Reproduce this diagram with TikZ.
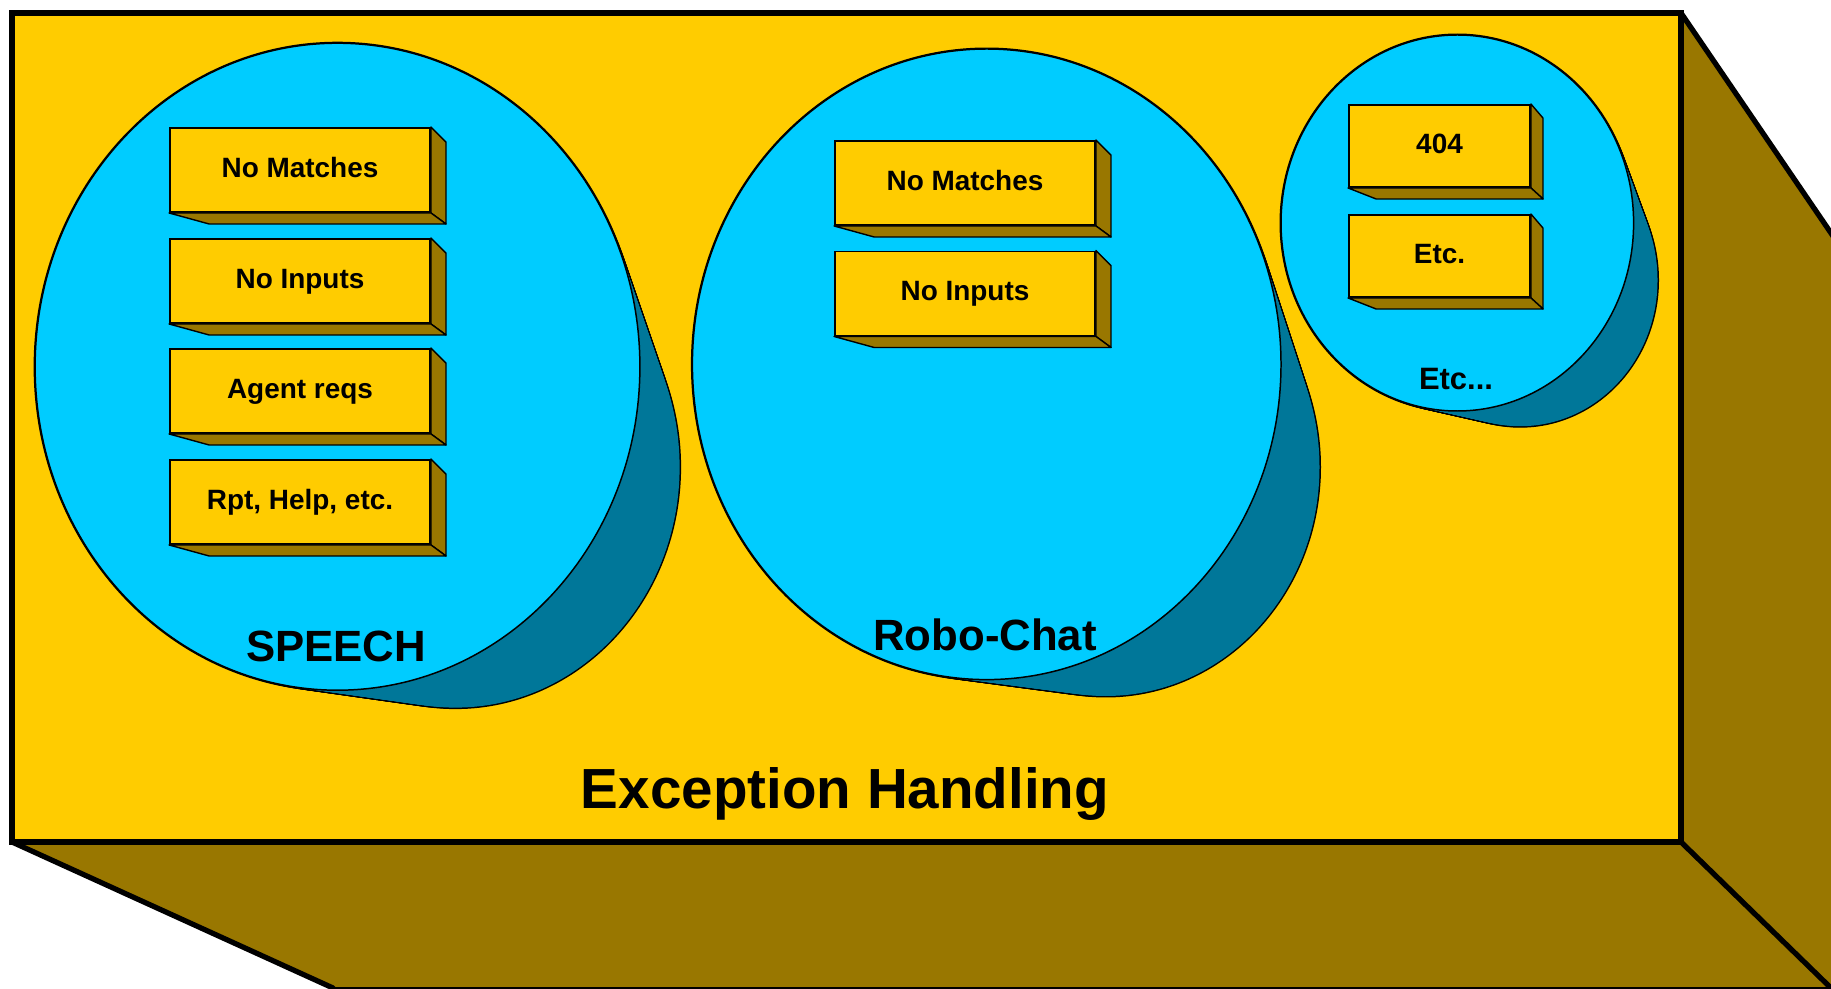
\documentclass[tikz,border=0pt]{standalone}
\usepackage{fontspec}
\setmainfont{Liberation Sans}
\usetikzlibrary{calc}

\definecolor{boxgold}{HTML}{FFCC00}
\definecolor{boxshade}{HTML}{997700}
\definecolor{discface}{HTML}{00CCFF}
\definecolor{discshade}{HTML}{007799}

\tikzset{
  frontface/.style={draw=black, fill=boxgold, line width=3.4pt, line join=miter},
  bigedge/.style={draw=black, line width=3pt, line cap=round},
  slab/.style={draw=black, fill=boxgold, line width=1.1pt, inner sep=0pt,
    text height=0.84em, text depth=0pt, font=\fontsize{15.9}{18}\selectfont\bfseries},
  slabside/.style={draw=black, fill=boxshade, line width=0.8pt, line join=round},
  disclabel/.style={anchor=base, inner sep=0pt, font=\fontsize{24.9}{28}\selectfont\bfseries},
}

% extruded disc: #1,#2 front centre, #3,#4 front radii, #5,#6 back centre, #7,#8 back radii
\newcommand\extrudeddisc[8]{%
  \foreach \k in {0,...,30}{%
    \pgfmathsetmacro\ff{\k/30}%
    \pgfmathsetmacro\ecx{#1+(#5-#1)*\ff}%
    \pgfmathsetmacro\ecy{#2+(#6-#2)*\ff}%
    \pgfmathsetmacro\erx{#3+(#7-#3)*\ff}%
    \pgfmathsetmacro\ery{#4+(#8-#4)*\ff}%
    \draw[black, line width=1.7pt] (\ecx,\ecy) ellipse [x radius=\erx, y radius=\ery];
  }%
  \foreach \k in {0,...,30}{%
    \pgfmathsetmacro\ff{\k/30}%
    \pgfmathsetmacro\ecx{#1+(#5-#1)*\ff}%
    \pgfmathsetmacro\ecy{#2+(#6-#2)*\ff}%
    \pgfmathsetmacro\erx{#3+(#7-#3)*\ff}%
    \pgfmathsetmacro\ery{#4+(#8-#4)*\ff}%
    \fill[discshade] (\ecx,\ecy) ellipse [x radius=\erx, y radius=\ery];
  }%
  \draw[black, fill=discface, line width=0.85pt] (#1,#2) ellipse [x radius=#3, y radius=#4];
}

% 3-D slab: #1 name, #2 centre, #3 width, #4 height, #5 text; depth set by \sL,\sR,\sT,\sB
\newcommand\slabbox[5]{%
  \node[slab, minimum width=#3*0.02cm, minimum height=#4*0.02cm] (#1) at #2 {#5};
  \draw[slabside] (#1.north east) -- ++(\sR,\sT) -- ($(#1.south east)+(\sR,\sB)$)
    -- (#1.south east) -- cycle;
  \draw[slabside] (#1.south west) -- (#1.south east) -- ($(#1.south east)+(\sR,\sB)$)
    -- ($(#1.south west)+(\sL,\sB)$) -- cycle;
}

\begin{document}
\begin{tikzpicture}[x=0.02cm, y=-0.02cm]
  \useasboundingbox (0,0) rectangle (1831,989);
  \begin{scope}
    \clip (0,0) rectangle (1831,989);
    % receding faces of the outer block
    \fill[boxshade] (1681,13) -- (1831,233) -- (1831,989) -- (1681,842) -- cycle;
    \fill[boxshade] (12,842) -- (1681,842) -- (1831,988) -- (333,988) -- cycle;
    \draw[bigedge] (1681,13) -- (1835,239);
    \draw[bigedge] (12,842) -- (333,988);
    \draw[bigedge] (1681,842) -- (1833,990);
    \draw[black, line width=1.2pt] (333,988) -- (1831,988);
  \end{scope}
  % front face of the outer block
  \draw[frontface] (12,13) rectangle (1681,842);

  % discs
  \extrudeddisc{337.5}{366.7}{302.4}{323.5}{455.4}{467.1}{224.2}{240.5}
  \extrudeddisc{986.7}{364.3}{294.3}{315.3}{1105.8}{467.1}{213.7}{228.9}
  \extrudeddisc{1457.3}{223.0}{176.3}{188.0}{1520.3}{280.2}{137.2}{146.0}

  % slabs in the speech disc
  \def\sL{40}\def\sR{15}\def\sT{15}\def\sB{11}
  \slabbox{sp1}{(300,170)}{260}{84}{No Matches}
  \slabbox{sp2}{(300,281)}{260}{84}{No Inputs}
  \slabbox{sp3}{(300,391)}{260}{84}{Agent reqs}
  \slabbox{sp4}{(300,502)}{260}{84}{Rpt, Help, etc.}

  % slabs in the chat disc
  \slabbox{rc1}{(965,183)}{260}{84}{No Matches}
  \slabbox{rc2}{(965,293.5)}{260}{84}{No Inputs}

  % slabs in the third disc
  \def\sL{28}\def\sR{12}\def\sT{14}\def\sB{11}
  \slabbox{et1}{(1439.5,146)}{181}{82}{404}
  \slabbox{et2}{(1439.5,256)}{181}{82}{Etc.}

  % disc titles
  \node[disclabel] (speech) at (336,661) {SPEECH};
  \node[disclabel] (robochat) at (985,650) {Robo-Chat};
  \node[anchor=base, inner sep=0pt, font=\fontsize{17.6}{20}\selectfont\bfseries]
    (etcdisc) at (1456,390) {Etc...};

  % block title
  \node[anchor=base, inner sep=0pt, font=\fontsize{32.2}{36}\selectfont\bfseries]
    (title) at (845,808) {Exception Handling};
\end{tikzpicture}
\end{document}
